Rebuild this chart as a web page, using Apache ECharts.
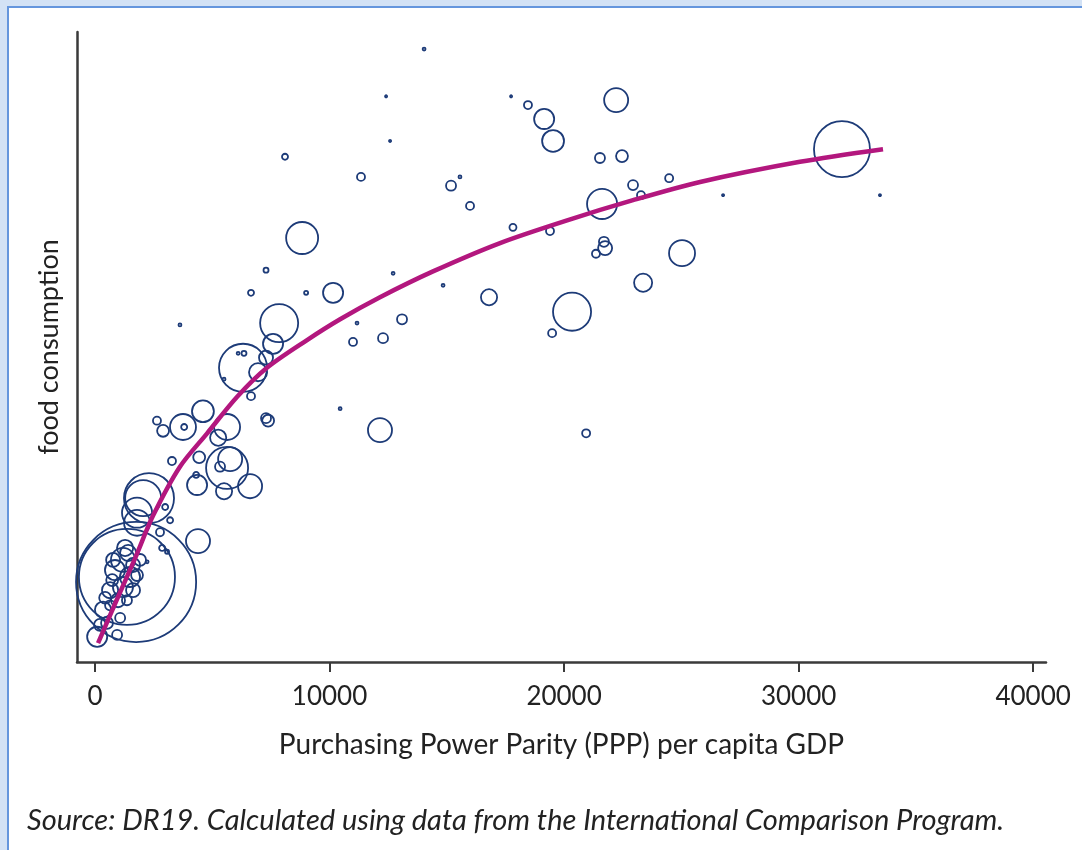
<!DOCTYPE html>
<html>
<head>
<meta charset="utf-8">
<title>food consumption vs PPP per capita GDP</title>
<script src="https://cdn.jsdelivr.net/npm/echarts@6.0.0/dist/echarts.min.js"></script>
<style>
	html, body { margin: 0; padding: 0; background: #d3e2f5; }
	#panel { position: absolute; left: 7px; top: 6px; width: 1080px; height: 850px;
		background: #fff; border-top: 2px solid #6596dd; border-left: 2px solid #6596dd; }
	#chart { position: absolute; left: 0; top: 0; width: 1082px; height: 850px; }
</style>
</head>
<body>
<div id="panel"></div>
<div id="chart"></div>
<script>
// countries: PPP per capita GDP, food consumption (index), population (millions)
var gdp = [14030, 12410, 12580, 17740, 18460, 19150, 19530, 22220, 21530, 22470,
	8100, 11340, 15180, 15560, 15990, 17820, 19400, 21620, 22940, 23280,
	24480, 21700, 21750, 21360, 25030, 23370, 20340, 19490, 20940, 31850,
	26780, 33470, 16800, 14840, 12710, 10150, 9000, 8830, 13090, 11170,
	12280, 11000, 7290, 6650, 3620, 7850, 7590, 6310, 6100, 6350,
	7290, 6950, 5500, 6650, 10450, 12150, 4600, 7380, 7290, 3750,
	3800, 2640, 2900, 5630, 5250, 5630, 5760, 5330, 6610, 4350,
	5500, 4440, 3280, 4310, 4390, 1750, 1360, 2300, 2050, 1790,
	1790, 2990, 3200, 2770, 2860, 3070, 2220, 1190, 850, 1490,
	640, 1190, 340, 90, 940, 510, 1790, 1410, 980, 1620,
	730, 210, 1070, 640, 1280, 1620, 430, 1360, 770, 1920];
var food = [97.3, 89.8, 82.7, 89.8, 88.4, 86.2, 82.7, 89.2, 80.0, 80.3,
	80.2, 77.0, 75.6, 77.0, 72.4, 69.0, 68.4, 72.7, 75.7, 74.1,
	76.8, 66.7, 65.7, 64.8, 64.9, 60.2, 55.6, 52.2, 36.3, 81.4,
	74.1, 74.1, 57.9, 59.8, 61.7, 58.6, 58.6, 67.3, 54.4, 53.8,
	51.4, 50.8, 62.2, 58.6, 53.5, 53.8, 50.5, 46.7, 49.0, 49.0,
	48.3, 46.0, 44.9, 42.2, 40.2, 36.8, 39.8, 38.3, 38.7, 37.3,
	37.3, 38.3, 36.7, 37.3, 35.6, 30.8, 32.2, 31.0, 27.9, 28.1,
	27.1, 32.5, 31.9, 29.7, 19.2, 12.7, 13.5, 26.0, 26.0, 23.7,
	22.1, 24.6, 22.5, 20.6, 18.1, 17.5, 15.9, 16.2, 14.6, 13.5,
	11.4, 11.9, 8.3, 4.0, 4.3, 6.2, 13.8, 17.3, 9.8, 15.4,
	13.0, 5.9, 7.0, 9.0, 18.1, 11.4, 10.2, 9.8, 16.2, 16.2];
var pop = [0.8, 0.4, 0.4, 0.4, 5.9, 37, 44, 53, 9.2, 13,
	3.3, 5.9, 9.2, 0.8, 5.9, 4.5, 5.9, 83, 9.2, 5.9,
	5.9, 9.2, 18, 5.9, 62, 30, 133, 5.9, 5.9, 288,
	0.4, 0.4, 24, 0.8, 0.8, 37, 1.5, 94, 9.2, 0.8,
	9.2, 5.9, 2.3, 3.3, 0.8, 133, 37, 212, 0.8, 2.3,
	18, 30, 0.8, 5.9, 0.8, 53, 44, 13, 9.2, 62,
	3.3, 5.9, 13, 62, 24, 162, 53, 9.2, 53, 37,
	24, 13, 5.9, 3.3, 53, 1324, 847, 230, 119, 83,
	62, 3.3, 3.3, 5.9, 3.3, 1.5, 0.8, 53, 37, 37,
	24, 37, 24, 37, 9.2, 13, 13, 24, 18, 18,
	13, 13, 9.2, 9.2, 24, 18, 13, 9.2, 18, 13];

// fitted curve
var fitGdp = [128, 940, 1710, 2470, 3620, 4780, 6060, 7330, 9040, 10450,
	12150, 14410, 17270, 20130, 22940, 25800, 30060, 33600];
var fitFood = [3.0, 10.0, 16.5, 23.2, 31.0, 36.3, 42.1, 46.7, 51.1, 54.4,
	57.9, 62.0, 66.5, 70.1, 73.3, 76.2, 79.4, 81.4];

var xTicks = [0, 10000, 20000, 30000, 40000];

var chart = echarts.init(document.getElementById('chart'));

var points = gdp.map(function(g, i) {
	return [g, food[i], pop[i]];
});
var fitLine = fitGdp.map(function(g, i) {
	return [g, fitFood[i]];
});

var axisColor = '#3a3a3a';

var option = {
	animation : false,
	grid : {
		left : 77,
		top : 32,
		right : 36,
		bottom : 188
	},
	xAxis : {
		type : 'value',
		min : -770,
		max : 40550,
		name : 'Purchasing Power Parity (PPP) per capita GDP',
		nameLocation : 'middle',
		nameGap : 69,
		nameTextStyle : {
			fontFamily : 'Lato',
			fontSize : 28,
			color : '#222'
		},
		axisLine : {
			show : true,
			onZero : false,
			lineStyle : { color : axisColor, width : 2.5 }
		},
		axisTick : {
			show : true,
			length : 10,
			customValues : xTicks,
			lineStyle : { color : axisColor, width : 2 }
		},
		axisLabel : {
			customValues : xTicks,
			margin : 22,
			formatter : function(v) {
				return String(v);
			},
			fontFamily : 'Lato',
			fontSize : 26,
			color : '#222'
		},
		splitLine : { show : false }
	},
	yAxis : {
		type : 'value',
		min : 0,
		max : 100,
		name : 'food consumption',
		nameLocation : 'middle',
		nameGap : 14,
		nameRotate : 90,
		nameTextStyle : {
			fontFamily : 'Lato',
			fontSize : 27,
			color : '#222'
		},
		axisLine : {
			show : true,
			onZero : false,
			lineStyle : { color : axisColor, width : 2.5 }
		},
		axisTick : { show : false },
		axisLabel : { show : false },
		splitLine : { show : false }
	},
	graphic : [ {
		type : 'text',
		left : 27,
		top : 806,
		style : {
			text : 'Source: DR19. Calculated using data from the International Comparison Program.',
			fontFamily : 'Lato',
			fontStyle : 'italic',
			fontSize : 29,
			fill : '#222'
		}
	} ],
	series : [ {
		type : 'scatter',
		data : points,
		symbol : 'circle',
		symbolSize : function(v) {
			return Math.max(2, 3.3 * Math.sqrt(v[2]));
		},
		itemStyle : {
			color : 'rgba(0,0,0,0)',
			borderColor : '#1d3b78',
			borderWidth : 1.8,
			opacity : 1
		},
		z : 2
	}, {
		type : 'line',
		data : fitLine,
		smooth : 0.3,
		showSymbol : false,
		symbol : 'none',
		lineStyle : { color : '#b3177e', width : 4.5 },
		z : 3
	} ]
};
chart.setOption(option);
</script>
</body>
</html>
